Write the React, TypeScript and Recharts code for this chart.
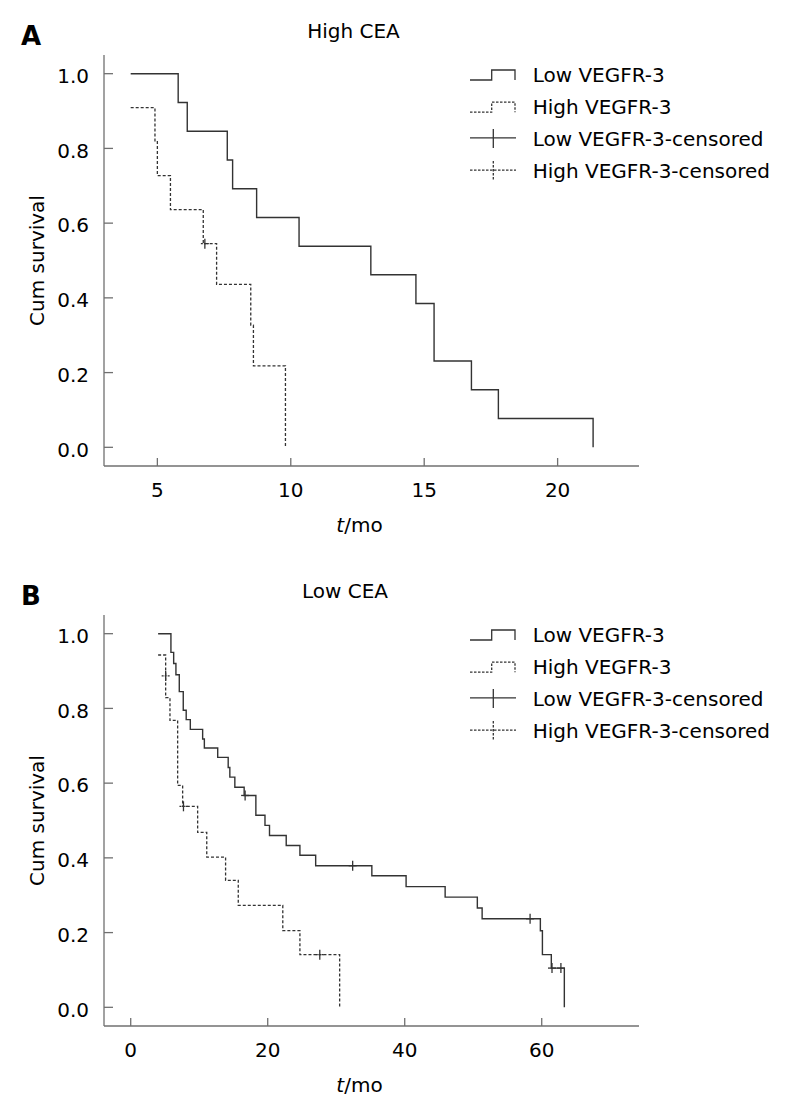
import React from 'react';
import { ComposedChart, Line, XAxis, YAxis, Scatter, Legend, Label } from 'recharts';

// ---------- data ----------
const Y_TICKS = [0, 0.2, 0.4, 0.6, 0.8, 1.0];
const A_X_TICKS = [5, 10, 15, 20];
const B_X_TICKS = [0, 20, 40, 60];

// Panel A: High CEA
const A_LOW_T = [4.0, 5.78, 6.12, 7.62, 7.82, 8.72, 10.31, 13.0, 14.69, 15.37, 16.77, 17.78, 21.33];
const A_LOW_S = [1.0, 0.923, 0.846, 0.769, 0.692, 0.615, 0.538, 0.462, 0.385, 0.231, 0.154, 0.077, 0.0];
const A_HIGH_T = [4.0, 4.91, 5.0, 5.49, 6.72, 7.22, 8.5, 8.6, 9.8];
const A_HIGH_S = [0.909, 0.818, 0.727, 0.636, 0.545, 0.436, 0.327, 0.218, 0.0];
const A_LOW_CENS_T: number[] = [];
const A_LOW_CENS_S: number[] = [];
const A_HIGH_CENS_T = [6.78];
const A_HIGH_CENS_S = [0.545];

// Panel B: Low CEA
const B_LOW_T = [4.0, 5.87, 6.27, 6.6, 7.09, 7.67, 8.1, 8.7, 10.5, 10.75, 12.7, 14.23, 14.47, 15.2, 16.56, 18.27, 19.6, 20.26, 22.7, 24.7, 27.0, 35.2, 40.2, 45.9, 50.6, 51.3, 59.8, 60.1, 61.4, 63.3];
const B_LOW_S = [1.0, 0.95, 0.92, 0.89, 0.845, 0.795, 0.77, 0.744, 0.718, 0.694, 0.669, 0.642, 0.616, 0.589, 0.567, 0.514, 0.487, 0.46, 0.433, 0.407, 0.379, 0.352, 0.323, 0.295, 0.266, 0.237, 0.205, 0.141, 0.105, 0.0];
const B_HIGH_T = [4.0, 5.1, 5.73, 6.85, 7.58, 9.77, 11.1, 13.85, 15.7, 22.2, 24.7, 30.5];
const B_HIGH_S = [0.943, 0.829, 0.768, 0.594, 0.538, 0.468, 0.402, 0.34, 0.273, 0.205, 0.141, 0.0];
const B_LOW_CENS_T = [16.7, 32.4, 58.3, 61.5, 62.8];
const B_LOW_CENS_S = [0.567, 0.379, 0.237, 0.105, 0.105];
const B_HIGH_CENS_T = [5.1, 7.7, 27.6];
const B_HIGH_CENS_S = [0.887, 0.538, 0.141];

const LEGEND_LABELS = ['Low VEGFR-3', 'High VEGFR-3', 'Low VEGFR-3-censored', 'High VEGFR-3-censored'];

// ---------- styling ----------
const AXIS = '#707070';
const CURVE = '#333333';
const DASH = '3 2';
const FONT = 20;

const zip = (t: number[], s: number[]) => t.map((v, i) => ({ t: v, s: s[i] }));

const YTick = (props: any) => {
  const { x, y, payload } = props;
  return (
    <g>
      <line x1={x} x2={x + 9} y1={y} y2={y} stroke={AXIS} strokeWidth={1.3} />
      <text x={x - 15} y={y} dy="0.46em" textAnchor="end" fontSize={FONT} fill="#000">
        {Number(payload.value).toFixed(1)}
      </text>
    </g>
  );
};

const XTick = (props: any) => {
  const { x, y, payload } = props;
  return (
    <g>
      <line x1={x} x2={x} y1={y} y2={y - 8} stroke={AXIS} strokeWidth={1.3} />
      <text x={x} y={y + 31} textAnchor="middle" fontSize={FONT} fill="#000">
        {payload.value}
      </text>
    </g>
  );
};

const makeCensor = (dashed: boolean) => (props: any) => {
  const { cx, cy } = props;
  if (cx == null || cy == null) return <g />;
  return (
    <g>
      <line x1={cx} x2={cx} y1={cy - 5} y2={cy + 5} stroke={CURVE} strokeWidth={1.3} />
      <line x1={cx - 4} x2={cx + 4} y1={cy} y2={cy} stroke={CURVE} strokeWidth={1.3} strokeDasharray={dashed ? '2 1' : undefined} />
    </g>
  );
};

const XLabel = (props: any) => {
  const { x, y, width } = props.viewBox;
  return (
    <text x={x + width / 2 - 12} y={y + 66} textAnchor="middle" fontSize={FONT} fill="#000">
      <tspan fontStyle="italic">t</tspan>/mo
    </text>
  );
};

const YLabel = (props: any) => {
  const { x, y, height } = props.viewBox;
  const cx = x;
  const cy = y + height / 2;
  return (
    <text x={cx} y={cy} transform={`rotate(-90 ${cx} ${cy})`} textAnchor="middle" fontSize={FONT} fill="#000">
      Cum survival
    </text>
  );
};

const LegendBox = () => {
  const rows = LEGEND_LABELS.map((label, i) => {
    const b = 26.5 + 32.2 * i;
    const dashed = i % 2 === 1;
    const censored = i >= 2;
    return (
      <g key={label}>
        {censored ? (
          <g>
            <line x1={10} x2={56} y1={b - 8} y2={b - 8} stroke={CURVE} strokeWidth={1.3} strokeDasharray={dashed ? '2.5 1.5' : undefined} />
            <line x1={33.3} x2={33.3} y1={b - 17} y2={b + 2} stroke={CURVE} strokeWidth={1.3} strokeDasharray={dashed ? '2.5 1.5' : undefined} />
          </g>
        ) : (
          <path
            d={`M10,${b - 1.5} H31.7 V${b - 11.5} H55 V${b - 1.5}`}
            fill="none"
            stroke={CURVE}
            strokeWidth={1.3}
            strokeDasharray={dashed ? '2.5 1.5' : undefined}
          />
        )}
        <text x={72.7} y={b} fontSize={FONT} fill="#000">
          {label}
        </text>
      </g>
    );
  });
  return (
    <svg width={320} height={140} style={{ display: 'block', fontFamily: 'DejaVu Sans' }}>
      {rows}
    </svg>
  );
};

type PanelProps = {
  letter: string;
  title: string;
  titleX: number;
  xDomain: [number, number];
  xTicks: number[];
  low: { t: number; s: number }[];
  high: { t: number; s: number }[];
  lowCens: { t: number; s: number }[];
  highCens: { t: number; s: number }[];
};

const Panel = (p: PanelProps) => (
  <ComposedChart
    width={787}
    height={560}
    margin={{ top: 55, right: 148, bottom: 64, left: 44 }}
  >
    <text x={21} y={45} fontSize={26} fontWeight="bold" fill="#000">
      {p.letter}
    </text>
    <text x={p.titleX} y={38} fontSize={FONT} textAnchor="middle" fill="#000">
      {p.title}
    </text>
    <XAxis
      type="number"
      dataKey="t"
      domain={p.xDomain}
      ticks={p.xTicks}
      allowDataOverflow
      height={30}
      tickSize={0}
      tickMargin={0}
      tickLine={false}
      tick={<XTick />}
      axisLine={{ stroke: AXIS, strokeWidth: 1.3 }}
      label={<Label content={<XLabel />} />}
    />
    <YAxis
      type="number"
      dataKey="s"
      domain={[-0.05, 1.05]}
      ticks={Y_TICKS}
      allowDataOverflow
      width={60}
      tickSize={0}
      tickMargin={0}
      tickLine={false}
      tick={<YTick />}
      axisLine={{ stroke: AXIS, strokeWidth: 1.3 }}
      label={<Label content={<YLabel />} />}
    />
    <Legend
      layout="vertical"
      align="center"
      verticalAlign="middle"
      wrapperStyle={{ left: 460, top: 55, width: 320, height: 140 }}
      content={() => <LegendBox />}
    />
    <Line
      data={p.low}
      dataKey="s"
      type="stepAfter"
      stroke={CURVE}
      strokeWidth={1.4}
      dot={false}
      activeDot={false}
      isAnimationActive={false}
    />
    <Line
      data={p.high}
      dataKey="s"
      type="stepAfter"
      stroke={CURVE}
      strokeWidth={1.3}
      strokeDasharray={DASH}
      dot={false}
      activeDot={false}
      isAnimationActive={false}
    />
    <Scatter data={p.lowCens} dataKey="s" shape={makeCensor(false)} isAnimationActive={false} />
    <Scatter data={p.highCens} dataKey="s" shape={makeCensor(true)} isAnimationActive={false} />
  </ComposedChart>
);

export default function App() {
  return (
    <div
      style={{
        position: 'absolute',
        left: 0,
        top: 0,
        width: 787,
        height: 1106,
        background: '#fff',
        fontFamily: 'DejaVu Sans',
      }}
    >
      <div style={{ position: 'absolute', left: 0, top: 0 }}>
        <Panel
          letter="A"
          title="High CEA"
          titleX={353.5}
          xDomain={[3.0, 23.05]}
          xTicks={A_X_TICKS}
          low={zip(A_LOW_T, A_LOW_S)}
          high={zip(A_HIGH_T, A_HIGH_S)}
          lowCens={zip(A_LOW_CENS_T, A_LOW_CENS_S)}
          highCens={zip(A_HIGH_CENS_T, A_HIGH_CENS_S)}
        />
      </div>
      <div style={{ position: 'absolute', left: 0, top: 560 }}>
        <Panel
          letter="B"
          title="Low CEA"
          titleX={345}
          xDomain={[-3.9, 74.2]}
          xTicks={B_X_TICKS}
          low={zip(B_LOW_T, B_LOW_S)}
          high={zip(B_HIGH_T, B_HIGH_S)}
          lowCens={zip(B_LOW_CENS_T, B_LOW_CENS_S)}
          highCens={zip(B_HIGH_CENS_T, B_HIGH_CENS_S)}
        />
      </div>
    </div>
  );
}
